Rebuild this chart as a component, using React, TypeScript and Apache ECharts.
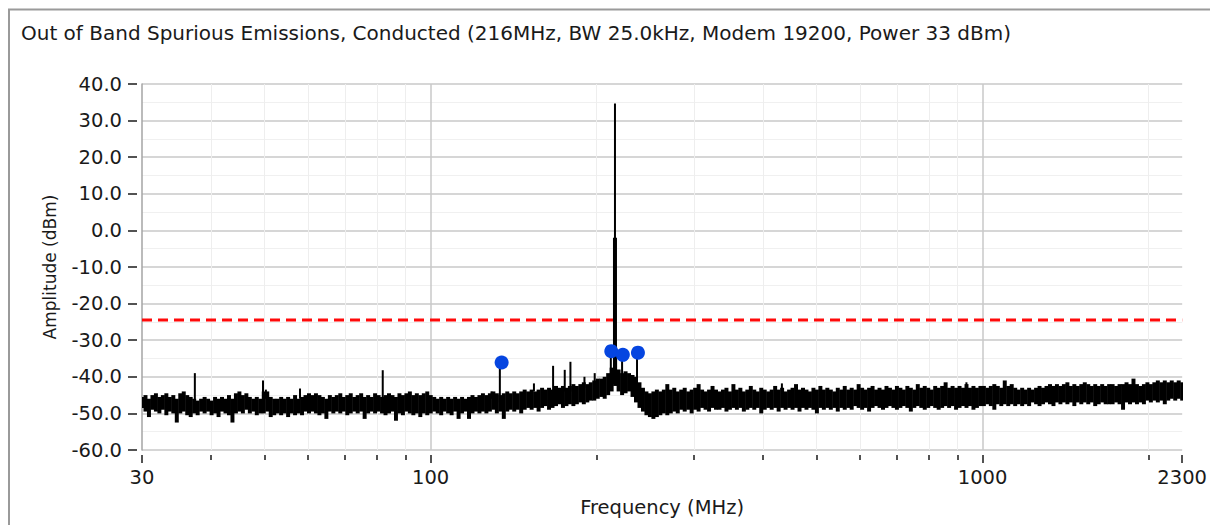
import React, { useEffect, useRef } from 'react';
import * as echarts from 'echarts';

const TITLE = 'Out of Band Spurious Emissions, Conducted (216MHz, BW 25.0kHz, Modem 19200, Power 33 dBm)';
const X_NAME = 'Frequency (MHz)';
const Y_NAME = 'Amplitude (dBm)';
const F_START = 30;
const F_STOP = 2300;
const X_MAJOR_TICKS = [30, 100, 1000, 2300];
const X_MINOR_TICKS = [40, 50, 60, 70, 80, 90, 200, 300, 400, 500, 600, 700, 800, 900, 2000];
const X_GRID = [100, 1000];
const Y_MIN = -60;
const Y_MAX = 40;
const Y_STEP = 10;
const LIMIT_DBM = -24.5;

// Sweep trace, read as [max, min] dBm per display bin (log-spaced bins, 30 -> 2300 MHz)
const band30to100: [number, number][] = [
  [-45.5, -48.5], [-45, -49.5], [-46, -51], [-45, -49], [-44.5, -49.5], [-45.5, -50], [-45, -49], [-44.5, -50.5], [-45.5, -49.5], [-45, -50],
  [-46, -52.5], [-44.5, -50], [-44, -49.5], [-45, -50.5], [-45.5, -51], [-46, -50], [-46.5, -50.5], [-46, -49.5], [-45.5, -50], [-46, -49.5],
  [-46.5, -50.5], [-45.5, -50], [-46, -51], [-45.5, -49.5], [-46, -50], [-45, -50.5], [-46, -52.5], [-44.5, -50], [-44, -49.5], [-45, -50],
  [-44.5, -49], [-45.5, -50], [-46, -49.5], [-45.5, -50.5], [-46, -50], [-44, -50], [-44, -49.5], [-45.5, -51], [-46, -50.5], [-46, -50],
  [-45.5, -50.5], [-46, -50], [-45.5, -51], [-46, -50], [-45, -50.5], [-46, -50], [-45.5, -50.5], [-45, -49.5], [-44.5, -50], [-45, -49.5],
  [-44.5, -50], [-45, -50.5], [-45.5, -50], [-46, -51.5], [-45, -49.5], [-45.5, -50], [-45, -49.5], [-44.5, -50], [-45.5, -49.5], [-45, -50.5],
  [-44.5, -50], [-45.5, -49.5], [-45, -50], [-44.5, -49.5], [-45.5, -51.5], [-45, -50], [-45.5, -49.5], [-44.5, -50], [-45, -49.5], [-45.5, -50],
  [-45, -50.5], [-44.5, -50], [-45, -49.5], [-45.5, -52], [-44.5, -50], [-45, -50.5], [-44.5, -49.5], [-44, -50], [-45, -50.5], [-44.5, -50],
  [-45, -51], [-44.5, -50], [-44, -50.5],
];
const band100to196: [number, number][] = [
  [-45, -50], [-45.5, -49.5], [-46, -50], [-45.5, -50.5], [-46, -49.5], [-45.5, -50], [-46, -50.5], [-45.5, -49.5], [-46, -51.5], [-45.5, -50],
  [-46, -49.5], [-45.5, -51.5], [-45, -50], [-45.5, -49.5], [-45, -50], [-44.5, -49.5], [-45, -50], [-44.5, -49.5], [-44, -49], [-44.5, -50],
  [-45, -49.5], [-44.5, -51.5], [-44, -49.5], [-44.5, -49], [-44, -49.5], [-44.5, -49], [-44, -50], [-43.5, -49], [-44, -48.5], [-43.5, -49],
  [-44, -48.5], [-43.5, -49.5], [-43, -48.5], [-43.5, -48], [-43, -49], [-43.5, -48.5], [-42.5, -48], [-43, -47.5], [-42.5, -48.5], [-43, -48],
  [-42.5, -47.5], [-42, -48], [-42.5, -47.5], [-42, -47], [-41.5, -47.5], [-42, -47], [-41.5, -46.5],
];
const band196to265: [number, number][] = [
  [-41, -46.5], [-40.5, -46], [-40.5, -45.5], [-40, -46], [-39, -45], [-37.5, -44], [-35, -42.5], [-38, -44], [-39, -45], [-38.5, -44.5],
  [-39, -44], [-39.5, -45.5], [-40, -47], [-41.5, -48.5], [-43, -49.5], [-44, -50.5], [-44.5, -51], [-44, -51.5], [-43.5, -51], [-44, -50.5],
  [-43.5, -50],
];
const band265to1000: [number, number][] = [
  [-42, -50.5], [-43.5, -50], [-43, -49.5], [-44, -50], [-43.5, -49], [-43, -49.5], [-44, -49], [-43.5, -50], [-43, -49], [-42, -49.5],
  [-43.5, -48.5], [-44, -49], [-43.5, -49.5], [-42.5, -48.5], [-43.5, -49], [-44, -49], [-43.5, -48.5], [-43, -49.5], [-44, -49], [-42, -48.5],
  [-43.5, -49], [-43, -48.5], [-44, -49.5], [-43.5, -49], [-42.5, -48.5], [-43.5, -49], [-44, -48.5], [-43, -50], [-43.5, -49], [-44, -48.5],
  [-43.5, -49], [-42.5, -48.5], [-43.5, -49.5], [-43, -48.5], [-44, -49], [-43.5, -48.5], [-43, -49], [-42, -48.5], [-43.5, -49.5], [-43, -48.5],
  [-43.5, -49], [-44, -48.5], [-43, -49], [-43.5, -50], [-42.5, -48.5], [-43.5, -49], [-43, -48.5], [-43.5, -49], [-44, -48.5], [-43, -49.5],
  [-43.5, -48.5], [-42.5, -49], [-43.5, -48.5], [-43, -49], [-43.5, -48], [-42, -48.5], [-43, -49], [-43.5, -48.5], [-43, -49.5], [-42.5, -48.5],
  [-43.5, -48], [-43, -48.5], [-43.5, -49], [-42.5, -48.5], [-43, -48], [-43.5, -48.5], [-42.5, -49], [-43, -48.5], [-43.5, -48], [-42.5, -48.5],
  [-43, -49.5], [-43.5, -48.5], [-42, -48], [-43, -48.5], [-42.5, -49], [-43, -48.5], [-43.5, -48], [-42.5, -48.5], [-43, -49], [-42.5, -48.5],
  [-41.5, -48], [-43, -48.5], [-42.5, -48], [-43, -49], [-42.5, -48.5], [-43, -48], [-42, -48.5], [-43, -48], [-42.5, -49], [-43, -48.5],
  [-42.5, -48],
];
const band1000to2300: [number, number][] = [
  [-42.5, -48], [-43, -47.5], [-42.5, -48], [-42, -49], [-42.5, -47.5], [-43, -48], [-41, -47.5], [-42.5, -48], [-42, -47.5], [-43, -48],
  [-43.5, -47.5], [-43, -48], [-43.5, -47.5], [-43, -48], [-43.5, -47], [-43, -47.5], [-42.5, -48], [-43, -47.5], [-42.5, -47], [-42, -47.5],
  [-42.5, -48], [-42, -47], [-42.5, -47.5], [-42, -47], [-41.5, -47.5], [-42.5, -47], [-42, -48], [-42.5, -47], [-42, -47.5], [-41.5, -47],
  [-42, -47.5], [-42.5, -47], [-42, -48], [-42.5, -47.5], [-42, -47], [-42.5, -47.5], [-42, -47.5], [-42, -47.5], [-42.5, -47], [-42, -47.5],
  [-42, -49], [-41.5, -47], [-42, -47.5], [-40.5, -47], [-42, -47.5], [-42.5, -47], [-42, -47.5], [-41.5, -46.5], [-42, -47], [-41.5, -46.5],
  [-41, -47], [-41.5, -46.5], [-41, -47.5], [-41.5, -46.5], [-41, -46], [-41.5, -46.5], [-41, -46], [-41.5, -46.5],
];

// Discrete spurs: [frequency MHz, floor dBm, peak dBm]
const spurs: [number, number, number][] = [
  [37.4, -47, -39], [49.7, -46, -41], [50.3, -46, -43.5], [58.0, -46, -43.2], [81.9, -47, -38.2],
  [128.9, -46, -44], [133.5, -47, -36.1], [153.9, -44, -41.8], [166.7, -44, -37], [175.0, -44, -38.1],
  [179.2, -44, -35.9], [190.0, -43, -40], [198.3, -42, -39], [212.1, -40, -33], [222.3, -40, -34],
  [236.6, -41, -33.4], [433, -44, -41.8], [935, -44, -41.5],
];
// Carrier: [frequency MHz, floor dBm, peak dBm]
const carrierPeak: [number, number, number][] = [[215.8, -41, 34.7]];
const carrierBody: [number, number, number][] = [[215.8, -42, -2]];
// Marked spurious emissions
const markers: [number, number][] = [[134.5, -36.1], [212.5, -33], [223, -34], [237.5, -33.4]];

const FONT = 'DejaVu Sans';
const W = 1210;
const H = 525;

export default function App() {
  const ref = useRef<HTMLDivElement>(null);
  useEffect(() => {
    document.documentElement.style.overflow = 'hidden';
    document.body.style.margin = '0';
    document.body.style.overflow = 'hidden';
    if (!ref.current) return;
    const chart = echarts.init(ref.current, undefined, { renderer: 'svg', width: W, height: H });

    const band = [...band30to100, ...band100to196, ...band196to265, ...band265to1000, ...band1000to2300];
    const n = band.length;
    const ratio = Math.pow(F_STOP / F_START, 1 / (n - 1));
    const bandData = band.map((b, i) => {
      const f = F_START * Math.pow(ratio, i);
      return [f, b[1], b[0], f * ratio];
    });

    const segRender = (width: number) => (params: any, api: any) => {
      const f = api.value(0);
      const a = api.coord([f, api.value(1)]);
      const b = api.coord([f, api.value(2)]);
      return {
        type: 'line',
        shape: { x1: a[0], y1: a[1], x2: b[0], y2: b[1] },
        style: { stroke: '#000', lineWidth: width },
      };
    };

    const axisText = { fontFamily: FONT, fontSize: 19.5, color: '#1a1a1a' };
    const tickStyle = { color: '#1a1a1a', width: 1.5 };
    const noLine = { show: false, onZero: false };

    chart.setOption({
      animation: false,
      backgroundColor: '#fff',
      title: {
        text: TITLE,
        left: 16,
        top: 18,
        textStyle: { fontFamily: FONT, fontSize: 20, fontWeight: 'normal', color: '#1a1a1a' },
      },
      graphic: [
        {
          type: 'polyline',
          shape: { points: [[9, 530], [9, 9.5], [1215, 9.5]] },
          style: { fill: 'none', stroke: '#9a9a9a', lineWidth: 2 },
          silent: true,
        },
      ],
      grid: { left: 142, right: 25, top: 84, bottom: 75, containLabel: false },
      xAxis: [
        {
          type: 'log', logBase: 10, min: F_START, max: F_STOP, position: 'bottom', offset: 5,
          axisLine: noLine,
          axisTick: { show: true, customValues: X_MAJOR_TICKS, length: 8, lineStyle: tickStyle },
          axisLabel: { customValues: X_MAJOR_TICKS, formatter: (v: number) => String(Math.round(v)), margin: 12, ...axisText },
          splitLine: { show: false },
          name: X_NAME, nameLocation: 'middle', nameGap: 42,
          nameTextStyle: { ...axisText },
        },
        {
          type: 'log', logBase: 10, min: F_START, max: F_STOP, position: 'bottom', offset: 5,
          axisLine: noLine,
          axisTick: { show: true, customValues: X_MINOR_TICKS, length: 5, lineStyle: tickStyle },
          axisLabel: { show: false },
          splitLine: { show: true, lineStyle: { color: '#eeeeee', width: 1 } },
        },
        {
          type: 'log', logBase: 10, min: F_START, max: F_STOP, position: 'bottom',
          axisLine: noLine,
          axisTick: { show: false, customValues: X_GRID },
          axisLabel: { show: false },
          splitLine: { show: true, lineStyle: { color: '#c8c8c8', width: 1.5 } },
        },
      ],
      yAxis: [
        {
          type: 'value', min: Y_MIN, max: Y_MAX, interval: Y_STEP, position: 'left',
          axisLine: { show: true, onZero: false, lineStyle: { color: '#a5a5a5', width: 1.5 } },
          axisTick: { show: false },
          axisLabel: { show: false },
          splitLine: { show: true, lineStyle: { color: '#c8c8c8', width: 1.5 } },
          minorTick: { show: false, splitNumber: 2 },
          minorSplitLine: { show: true, lineStyle: { color: '#f0f0f0', width: 1 } },
        },
        {
          type: 'value', min: Y_MIN, max: Y_MAX, interval: Y_STEP, position: 'left', offset: 5,
          axisLine: noLine,
          axisTick: { show: true, length: 9, lineStyle: tickStyle },
          axisLabel: { formatter: (v: number) => v.toFixed(1), margin: 15, ...axisText },
          splitLine: { show: false },
          name: Y_NAME, nameLocation: 'middle', nameGap: 79, nameRotate: 90,
          nameTextStyle: { ...axisText, fontSize: 17 },
        },
      ],
      series: [
        {
          name: 'limit', type: 'line', xAxisIndex: 0, yAxisIndex: 0, silent: true,
          data: [[F_START, LIMIT_DBM], [F_STOP, LIMIT_DBM]],
          showSymbol: false, symbol: 'none',
          lineStyle: { color: '#ff0a0a', width: 3, type: [10, 6] },
          z: 2,
        },
        {
          name: 'trace', type: 'custom', xAxisIndex: 0, yAxisIndex: 0, silent: true, clip: true,
          data: bandData,
          encode: { x: 0, y: [1, 2] },
          renderItem: (params: any, api: any) => {
            const f = api.value(0);
            const a = api.coord([f, api.value(1)]);
            const b = api.coord([f, api.value(2)]);
            const c = api.coord([api.value(3), api.value(1)]);
            const w = Math.abs(c[0] - a[0]) + 0.5;
            return {
              type: 'rect',
              shape: { x: a[0] - w / 2, y: b[1], width: w, height: a[1] - b[1] },
              style: { fill: '#000' },
            };
          },
          z: 3,
        },
        {
          name: 'spurs', type: 'custom', xAxisIndex: 0, yAxisIndex: 0, silent: true, clip: true,
          data: spurs, encode: { x: 0, y: [1, 2] }, renderItem: segRender(2), z: 4,
        },
        {
          name: 'carrier', type: 'custom', xAxisIndex: 0, yAxisIndex: 0, silent: true, clip: true,
          data: carrierPeak, encode: { x: 0, y: [1, 2] }, renderItem: segRender(2), z: 4,
        },
        {
          name: 'carrierBody', type: 'custom', xAxisIndex: 0, yAxisIndex: 0, silent: true, clip: true,
          data: carrierBody, encode: { x: 0, y: [1, 2] }, renderItem: segRender(4), z: 4,
        },
        {
          name: 'markers', type: 'scatter', xAxisIndex: 0, yAxisIndex: 0, silent: true,
          data: markers, symbol: 'circle', symbolSize: 14,
          itemStyle: { color: '#0545e0', opacity: 1 },
          z: 5,
        },
      ],
    });
    return () => chart.dispose();
  }, []);
  return <div ref={ref} style={{ position: 'absolute', left: 0, top: 0, width: W, height: H }} />;
}
